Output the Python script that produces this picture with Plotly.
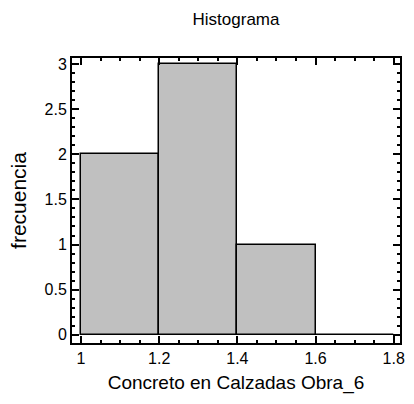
import plotly.graph_objects as go

# Histogram classes (lower edges) and counts
bin_starts = [1.0, 1.2, 1.4, 1.6]
bin_width = 0.2
frequencies = [2, 3, 1, 0]

x_ticks = [1, 1.2, 1.4, 1.6, 1.8]
x_tick_text = ["1", "1.2", "1.4", "1.6", "1.8"]
y_ticks = [0, 0.5, 1, 1.5, 2, 2.5, 3]
y_tick_text = ["0", "0.5", "1", "1.5", "2", "2.5", "3"]

font_family = "Liberation Sans, Arial, sans-serif"

fig = go.Figure(
    go.Bar(
        x=[s + bin_width / 2 for s in bin_starts],
        y=frequencies,
        width=bin_width,
        marker=dict(color="#c0c0c0", line=dict(color="black", width=1.5)),
        hoverinfo="x+y",
    )
)

axis_common = dict(
    showline=True,
    linecolor="black",
    linewidth=2,
    mirror="ticks",
    ticks="inside",
    ticklen=7,
    tickwidth=1.5,
    tickcolor="black",
    showgrid=False,
    zeroline=False,
    tickfont=dict(family=font_family, size=16, color="black"),
    minor=dict(ticks="inside", ticklen=3, tickwidth=1.5, tickcolor="black"),
)

fig.update_xaxes(
    range=[0.977, 1.816],
    tickmode="array",
    tickvals=x_ticks,
    ticktext=x_tick_text,
    title=dict(text="Concreto en Calzadas Obra_6",
               font=dict(family=font_family, size=19, color="black"),
               standoff=9),
    **axis_common,
)
fig.update_xaxes(minor_dtick=0.05)

fig.update_yaxes(
    range=[-0.091, 3.067],
    tickmode="array",
    tickvals=y_ticks,
    ticktext=y_tick_text,
    title=dict(text="frecuencia",
               font=dict(family=font_family, size=21, color="black"),
               standoff=12),
    **axis_common,
)
fig.update_yaxes(minor_dtick=0.1)

fig.update_layout(
    width=414,
    height=404,
    margin=dict(l=72, r=9, t=58, b=61),
    paper_bgcolor="white",
    plot_bgcolor="white",
    bargap=0,
    showlegend=False,
    title=dict(text="Histograma", x=0.5, xref="paper", y=1 - 19 / 404,
               yanchor="middle",
               font=dict(family=font_family, size=17, color="black")),
)

fig.write_html("out.html")
